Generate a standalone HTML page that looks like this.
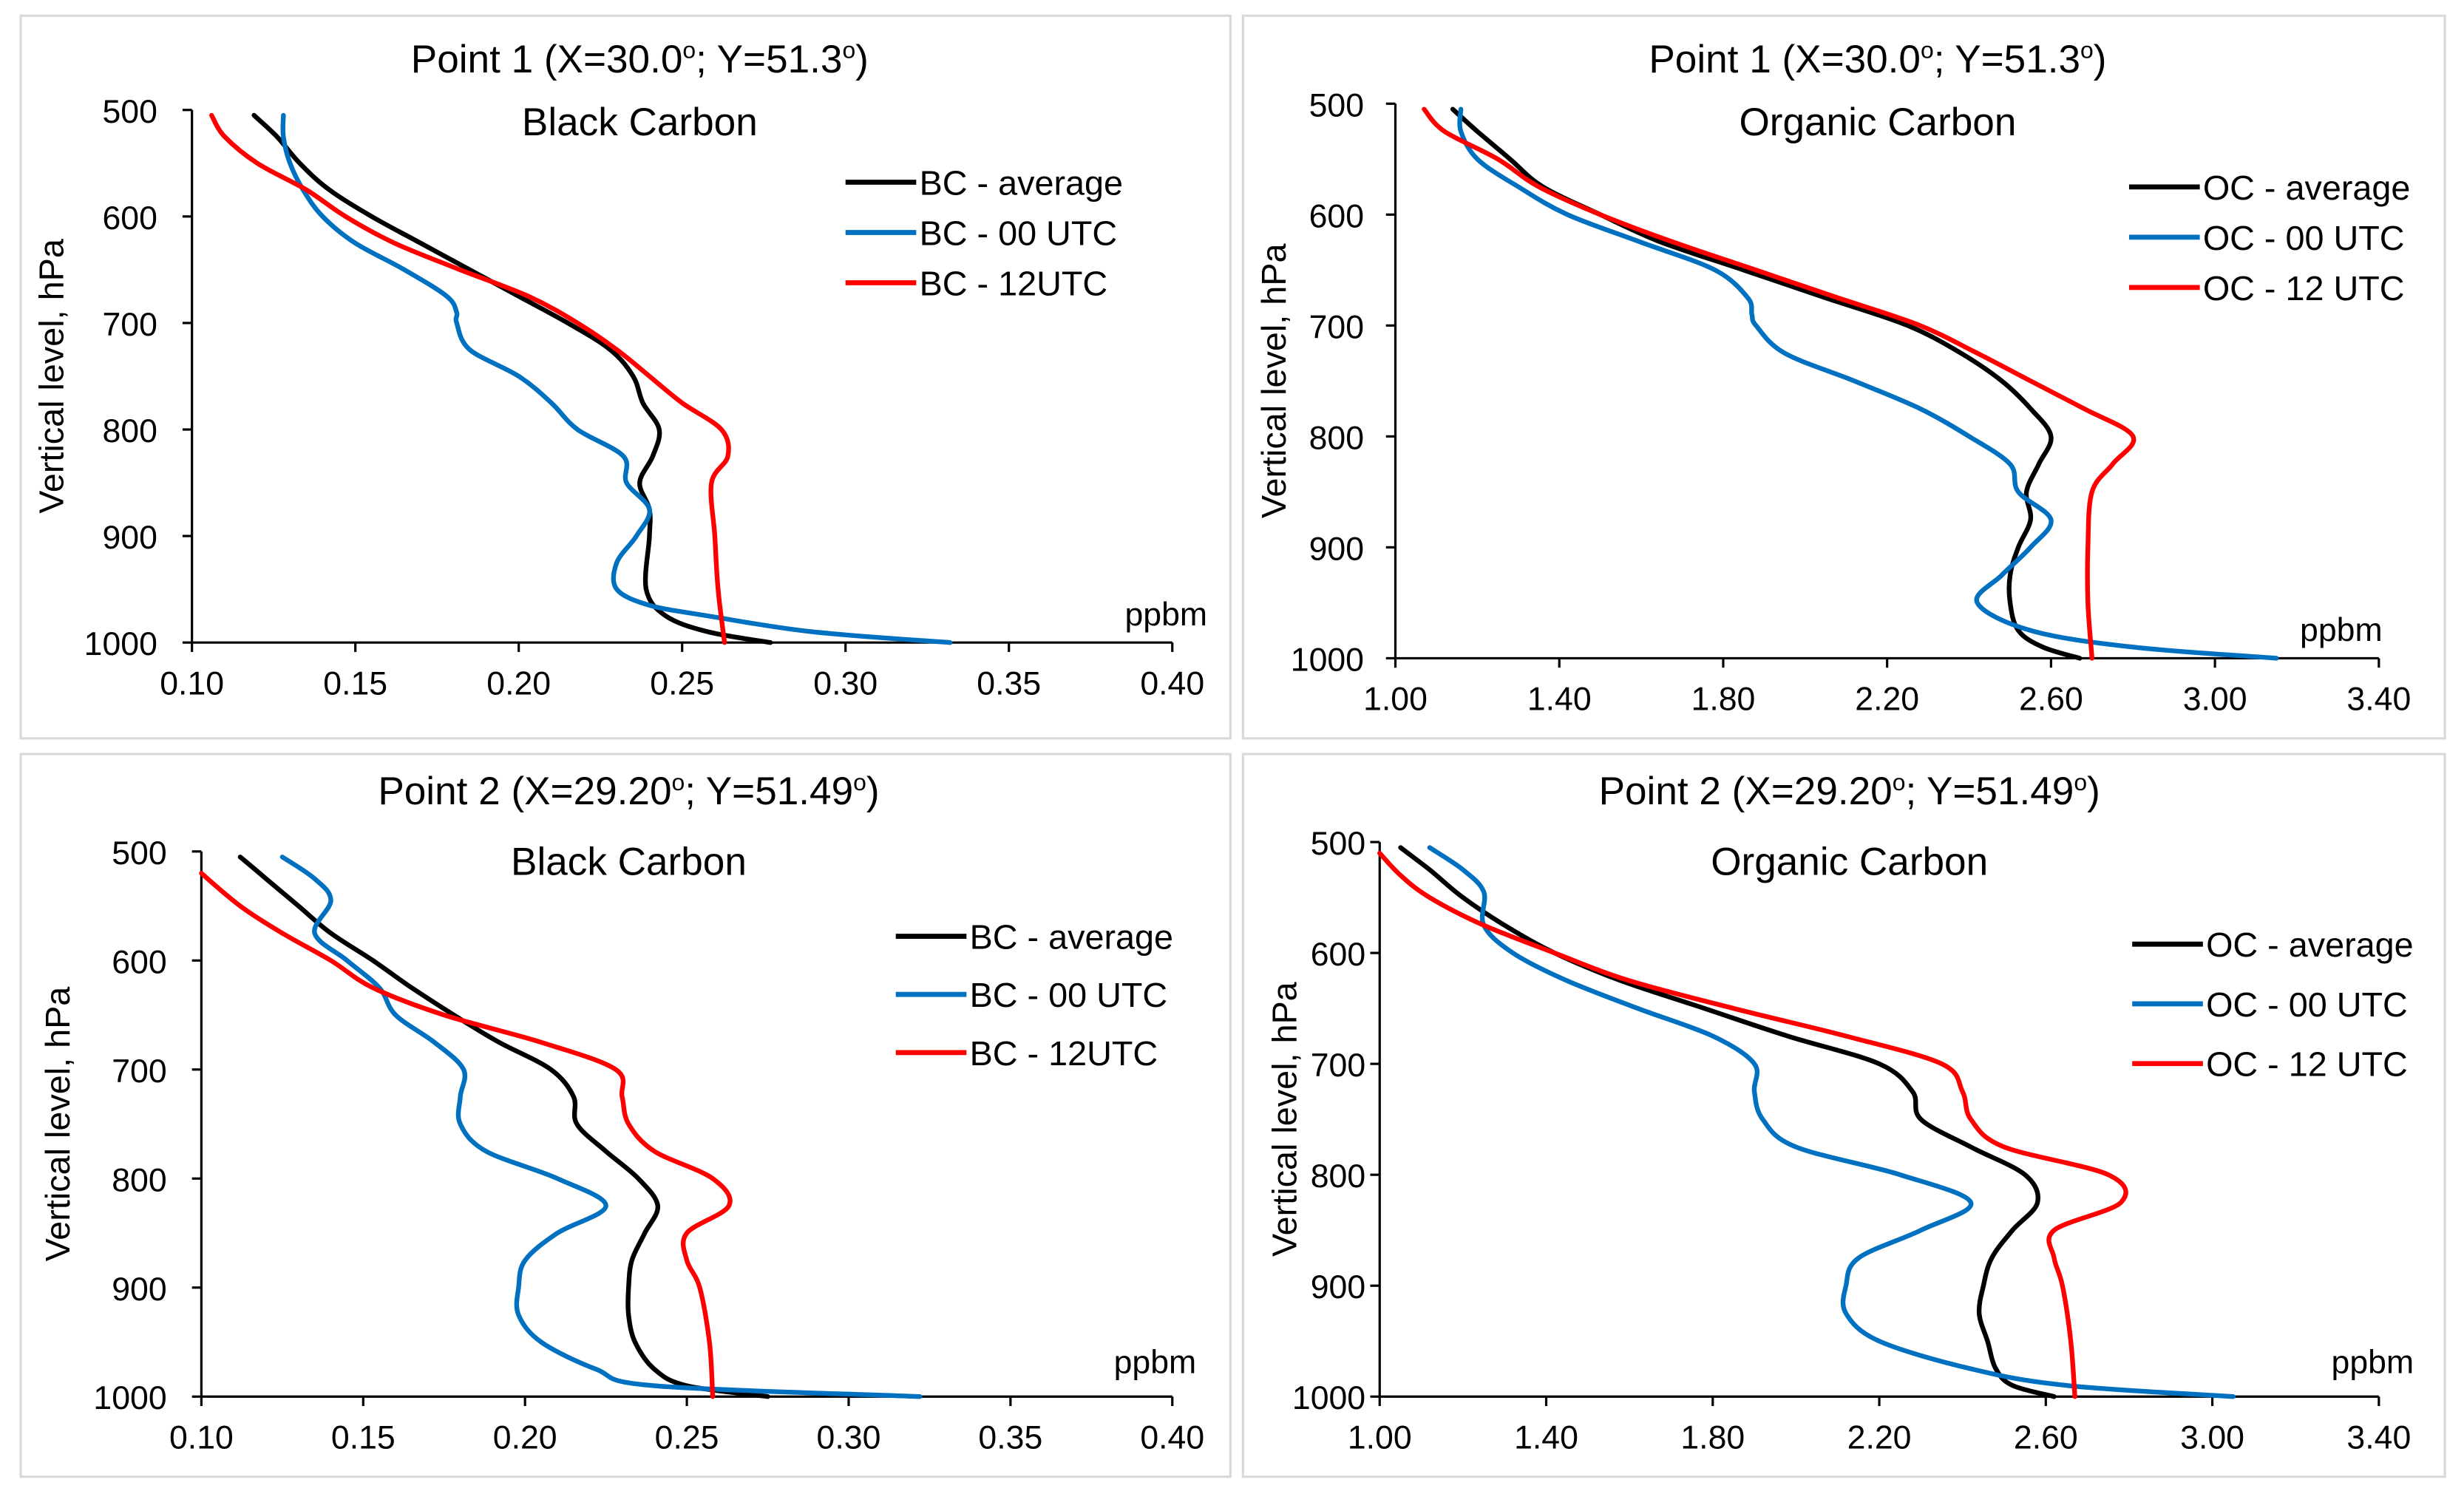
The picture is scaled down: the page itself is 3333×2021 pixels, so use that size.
<!DOCTYPE html>
<html><head><meta charset="utf-8"><style>
html,body{margin:0;padding:0;background:#fff}
svg{display:block;font-family:"Liberation Sans",sans-serif}
</style></head><body>
<svg id="chart" width="3333" height="2021" viewBox="0 0 1568 951" xmlns="http://www.w3.org/2000/svg"></svg>
<script>
const p1avg=[505,525,550,575,600,625,650,675,700,725,750,775,800,825,850,875,900,950,975,990,1000];
const v1avg=[0.119,0.126,0.133,0.142,0.155,0.17,0.185,0.2,0.215,0.228,0.235,0.238,0.243,0.241,0.237,0.24,0.24,0.239,0.245,0.258,0.277];
const p1c00=[505,525,550,575,600,625,650,675,690,700,725,750,775,800,825,850,875,900,925,950,965,975,990,1000];
const v1c00=[0.128,0.128,0.13,0.134,0.14,0.15,0.165,0.178,0.181,0.181,0.185,0.2,0.21,0.218,0.232,0.233,0.24,0.236,0.23,0.23,0.24,0.258,0.29,0.332];
const p1c12=[505,525,550,575,600,625,650,675,700,725,750,775,800,825,850,900,950,1000];
const v1c12=[0.106,0.11,0.12,0.135,0.147,0.162,0.182,0.203,0.218,0.23,0.24,0.25,0.262,0.264,0.259,0.26,0.261,0.263];

const p2avg=[505,525,550,575,600,625,650,675,700,725,750,775,800,825,850,875,900,925,950,975,990,1000];
const v2avg=[1.14,1.2,1.28,1.36,1.5,1.65,1.85,2.05,2.25,2.38,2.48,2.55,2.6,2.57,2.54,2.55,2.52,2.5,2.5,2.52,2.58,2.67];
const p2c00=[505,525,550,575,600,625,650,675,690,700,725,750,775,800,825,850,875,900,925,950,975,990,1000];
const v2c00=[1.16,1.16,1.2,1.3,1.42,1.6,1.78,1.86,1.87,1.88,1.95,2.12,2.28,2.4,2.5,2.52,2.6,2.55,2.48,2.42,2.55,2.8,3.15];
const p2c12=[505,525,550,575,600,625,650,675,700,725,750,775,800,825,850,900,950,1000];
const v2c12=[1.07,1.12,1.25,1.35,1.5,1.68,1.88,2.08,2.28,2.42,2.55,2.68,2.8,2.75,2.7,2.69,2.69,2.7];

const p3avg=[505,525,550,575,600,625,650,675,700,725,750,775,800,825,850,875,900,925,950,975,990,1000];
const v3avg=[0.112,0.12,0.13,0.14,0.153,0.165,0.178,0.192,0.208,0.215,0.216,0.225,0.235,0.241,0.237,0.233,0.232,0.232,0.234,0.24,0.25,0.275];
const p3c00=[505,525,545,575,600,625,650,675,700,725,750,775,800,825,850,875,900,925,950,975,990,1000];
const v3c00=[0.125,0.135,0.14,0.135,0.145,0.155,0.16,0.172,0.181,0.18,0.18,0.188,0.21,0.225,0.21,0.2,0.198,0.198,0.205,0.222,0.24,0.322];
const p3c12=[520,550,575,600,625,650,675,700,725,750,775,800,825,850,875,900,950,1000];
const v3c12=[0.10,0.112,0.125,0.14,0.153,0.175,0.205,0.228,0.23,0.232,0.24,0.258,0.263,0.25,0.25,0.254,0.257,0.258];

const p4avg=[505,525,550,575,600,625,650,675,700,725,750,775,800,825,850,875,900,925,950,975,990,1000];
const v4avg=[1.05,1.12,1.2,1.3,1.42,1.58,1.78,1.98,2.2,2.28,2.3,2.42,2.55,2.58,2.52,2.47,2.45,2.44,2.46,2.48,2.52,2.62];
const p4c00=[505,525,545,575,600,625,650,675,700,725,750,775,800,825,850,875,900,925,950,975,990,1000];
const v4c00=[1.12,1.2,1.25,1.25,1.32,1.45,1.62,1.8,1.9,1.9,1.92,2.0,2.25,2.42,2.3,2.15,2.12,2.12,2.2,2.42,2.65,3.05];
const p4c12=[510,530,550,575,600,625,650,675,700,725,750,775,800,825,850,875,900,950,1000];
const v4c12=[1.0,1.05,1.12,1.25,1.42,1.6,1.85,2.12,2.35,2.4,2.42,2.5,2.75,2.78,2.62,2.62,2.64,2.66,2.67];

const bcTicks=["0.10","0.15","0.20","0.25","0.30","0.35","0.40"];
const ocTicks=["1.00","1.40","1.80","2.20","2.60","3.00","3.40"];
const yTicks=[500,600,700,800,900,1000];

const NS="http://www.w3.org/2000/svg";
const svg=document.getElementById('chart');
function mk(tag,attrs,parent){const e=document.createElementNS(NS,tag);for(const k in attrs)e.setAttribute(k,attrs[k]);(parent||svg).appendChild(e);return e;}
function smooth(pts){
 let d='M'+pts[0][0].toFixed(1)+','+pts[0][1].toFixed(1);
 for(let i=0;i<pts.length-1;i++){
  const p0=pts[i-1]||pts[i],p1=pts[i],p2=pts[i+1],p3=pts[i+2]||p2;
  const c1=[p1[0]+(p2[0]-p0[0])/6,p1[1]+(p2[1]-p0[1])/6];
  const c2=[p2[0]-(p3[0]-p1[0])/6,p2[1]-(p3[1]-p1[1])/6];
  d+=' C'+c1[0].toFixed(1)+','+c1[1].toFixed(1)+' '+c2[0].toFixed(1)+','+c2[1].toFixed(1)+' '+p2[0].toFixed(1)+','+p2[1].toFixed(1);
 }
 return d;
}

const panels=[
 {id:'p1',box:[13,10,770,460],x0:122,x1:746,y0:70,y1:409,xmin:0.10,xmax:0.40,ticks:bcTicks,t1:'Point 1 (X=30.0',t1b:'; Y=51.3',tcx:407,ty:46,sub:'Black Carbon',suby:77,lx:538,ly:[116,148,180],labs:['BC - average','BC - 00 UTC','BC - 12UTC'],ylx:40,tko:22,ppx:742,ppy:390,xty:442,
  series:[[p1avg,v1avg,'#000'],[p1c00,v1c00,'#0070c0'],[p1c12,v1c12,'#ff0000']]},
 {id:'p2',box:[791,10,765,460],x0:888,x1:1514,y0:66,y1:419,xmin:1.0,xmax:3.4,ticks:ocTicks,t1:'Point 1 (X=30.0',t1b:'; Y=51.3',tcx:1195,ty:46,sub:'Organic Carbon',suby:77,lx:1355,ly:[119,151,183],labs:['OC - average','OC - 00 UTC','OC - 12 UTC'],ylx:818,tko:20,ppx:1490,ppy:400,xty:452,
  series:[[p2avg,v2avg,'#000'],[p2c00,v2c00,'#0070c0'],[p2c12,v2c12,'#ff0000']]},
 {id:'p3',box:[13,480,770,460],x0:128,x1:746,y0:542,y1:889,xmin:0.10,xmax:0.40,ticks:bcTicks,t1:'Point 2 (X=29.20',t1b:'; Y=51.49',tcx:400,ty:512,sub:'Black Carbon',suby:548,lx:570,ly:[596,633,670],labs:['BC - average','BC - 00 UTC','BC - 12UTC'],ylx:44,tko:22,ppx:735,ppy:866,xty:922,
  series:[[p3avg,v3avg,'#000'],[p3c00,v3c00,'#0070c0'],[p3c12,v3c12,'#ff0000']]},
 {id:'p4',box:[791,480,765,460],x0:878,x1:1514,y0:536,y1:889,xmin:1.0,xmax:3.4,ticks:ocTicks,t1:'Point 2 (X=29.20',t1b:'; Y=51.49',tcx:1177,ty:512,sub:'Organic Carbon',suby:548,lx:1357,ly:[601,639,677],labs:['OC - average','OC - 00 UTC','OC - 12 UTC'],ylx:825,tko:9,ppx:1510,ppy:866,xty:922,
  series:[[p4avg,v4avg,'#000'],[p4c00,v4c00,'#0070c0'],[p4c12,v4c12,'#ff0000']]}
];

panels.forEach(P=>{
 const g=mk('g',{});
 
 
 const xs=v=>P.x0+(v-P.xmin)/(P.xmax-P.xmin)*(P.x1-P.x0);
 const ys=p=>P.y0+(p-500)/500*(P.y1-P.y0);
 const b=mk('rect',{x:P.box[0],y:P.box[1],width:P.box[2],height:P.box[3],fill:'#fff',stroke:'#d9d9d9','stroke-width':1.5},g);
 
 const t=mk('text',{x:P.tcx,y:P.ty,'text-anchor':'middle','font-size':25,fill:'#000'},g);
 
 t.innerHTML=P.t1+'<tspan dy="-9" font-size="15">o</tspan><tspan dy="9">'+P.t1b+'</tspan><tspan dy="-9" font-size="15">o</tspan><tspan dy="9">)</tspan>';
 const st=mk('text',{x:P.tcx,y:P.suby+9,'text-anchor':'middle','font-size':25,fill:'#000'},g);
 
 st.textContent=P.sub;
 const ya=mk('line',{x1:P.x0,y1:P.y0,x2:P.x0,y2:P.y1,stroke:'#000','stroke-width':1.5},g);
 
 const xa=mk('line',{x1:P.x0,y1:P.y1,x2:P.x1,y2:P.y1,stroke:'#000','stroke-width':1.5},g);
 
 yTicks.forEach(v=>{
  mk('line',{x1:P.x0-6,x2:P.x0,y1:ys(v),y2:ys(v),stroke:'#000','stroke-width':1.5},g);
  const tl=mk('text',{x:P.x0-P.tko,y:ys(v)+8,'text-anchor':'end','font-size':21,fill:'#000'},g);
  
  tl.textContent=v;
 });
 P.ticks.forEach(s=>{
  const v=parseFloat(s);
  mk('line',{x1:xs(v),x2:xs(v),y1:P.y1,y2:P.y1+6,stroke:'#000','stroke-width':1.5},g);
  const tl=mk('text',{x:xs(v),y:P.xty,'text-anchor':'middle','font-size':21,fill:'#000'},g);
  
  tl.textContent=s;
 });
 const cy=(P.y0+P.y1)/2;
 const yl=mk('text',{x:P.ylx,y:cy,'text-anchor':'middle','font-size':22,fill:'#000',transform:'rotate(-90 '+P.ylx+' '+cy+')'},g);
 
 yl.textContent='Vertical level, hPa';
 const pp=mk('text',{x:P.ppx,y:P.ppy+8,'text-anchor':'middle','font-size':21,fill:'#000'},g);
 
 pp.textContent='ppbm';
 const names=['series-average','series-00utc','series-12utc'];
 P.series.forEach((s,i)=>{
  const pts=s[0].map((p,k)=>[xs(s[1][k]),ys(p)]);
  const pl=mk('path',{d:smooth(pts),fill:'none',stroke:s[2],'stroke-width':3,'stroke-linejoin':'round','stroke-linecap':'round'},g);
  
  
 });
 P.series.forEach((s,i)=>{
  const lg=mk('g',{},g);
  
  
  mk('line',{x1:P.lx,x2:P.lx+45,y1:P.ly[i],y2:P.ly[i],stroke:s[2],'stroke-width':3.2},lg);
  const lt=mk('text',{x:P.lx+47,y:P.ly[i]+8,'font-size':22,fill:'#000'},lg);
  lt.textContent=P.labs[i];
 });
});
</script>
</body></html>
